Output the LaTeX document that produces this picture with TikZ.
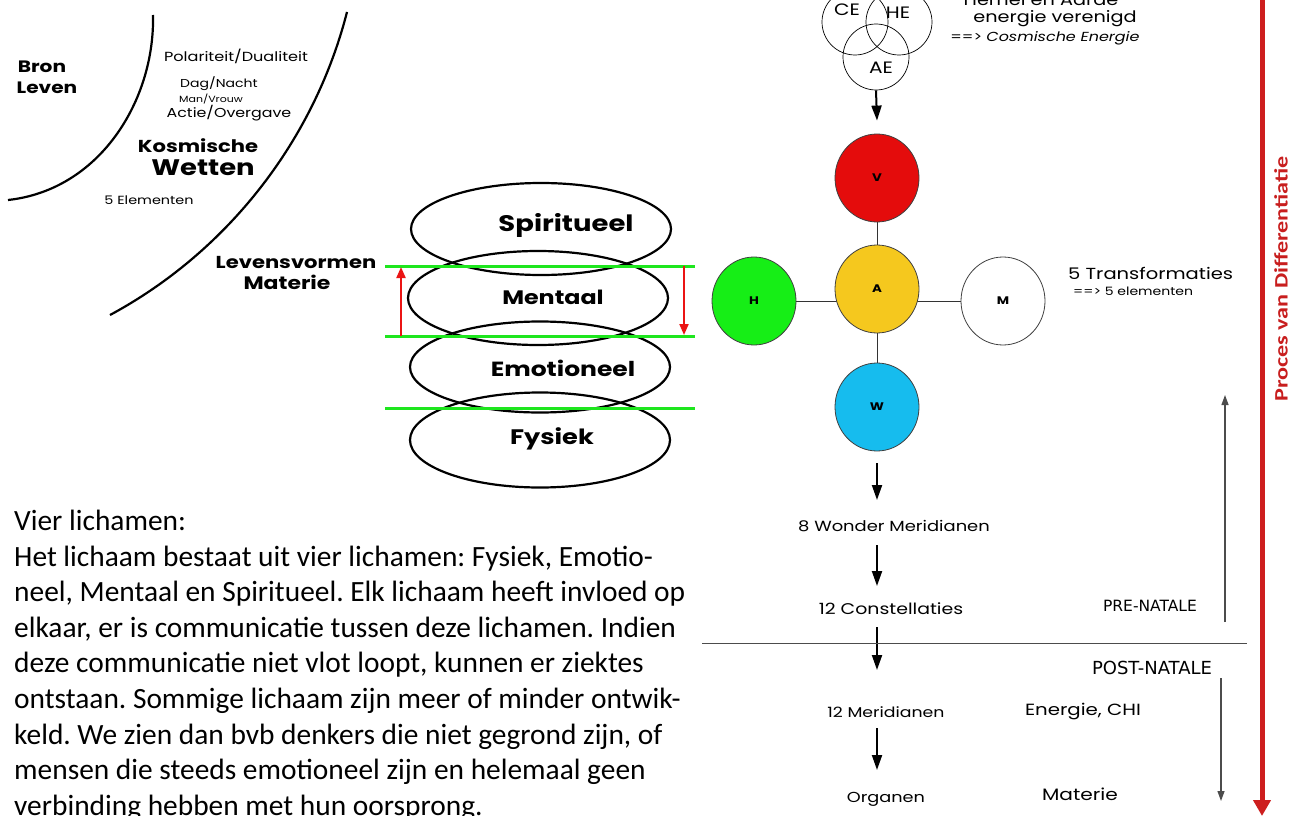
\documentclass[tikz,border=0pt]{standalone}
\usepackage{fontspec}
\setmainfont{Poppins}[FakeStretch=1.22]
\newfontfamily\bodyfont{Carlito}
\newfontfamily\tahfont{DejaVu Sans}
\usetikzlibrary{arrows.meta,shapes.geometric,calc,backgrounds}
\newcommand\fsz[1]{\fontsize{#1}{#1}\selectfont}
\definecolor{cV}{RGB}{228,12,12}
\definecolor{cA}{RGB}{245,200,30}
\definecolor{cH}{RGB}{22,238,22}
\definecolor{cW}{RGB}{22,188,238}
\definecolor{glin}{RGB}{30,230,30}
\definecolor{rarr}{RGB}{235,20,20}
\definecolor{bigred}{RGB}{205,30,30}
\definecolor{procred}{RGB}{200,30,30}
\begin{document}
\frenchspacing
\begin{tikzpicture}[x=1pt,y=1pt,
  txt/.style={inner sep=0pt, anchor=center},
  arcline/.style={line width=2.2pt, draw=black},
  layer/.style={ellipse, draw, line width=2.2pt, minimum width=260pt, inner sep=0pt},
  layertxt/.style={txt, font=\fsz{20.5}\bfseries},
  gline/.style={line width=3pt, draw=glin},
  rarrow/.style={line width=2pt, draw=rarr, -{Triangle[length=11pt,width=9pt]}},
  venn/.style={circle, draw, line width=0.7pt, minimum size=66pt, inner sep=0pt},
  venntxt/.style={txt, font=\fsz{16.5}},
  elem/.style={ellipse, draw=black!75, line width=0.8pt, minimum width=84pt, minimum height=88pt, inner sep=0pt, font=\fsz{11}\bfseries},
  conn/.style={line width=0.9pt, draw=black!80},
  flow/.style={line width=2pt, -{Triangle[length=15pt,width=10pt]}},
  thinarr/.style={line width=1.3pt, draw=black!70, -{Triangle[length=10pt,width=7pt]}},
  flowtxt/.style={txt, font=\fsz{14.7}},
  tahtxt/.style={txt, font=\tahfont\fsz{15.5}},
]
\begin{scope}[on background layer]
\fill[white] (0,0) rectangle (1293,-816);
\end{scope}
\useasboundingbox (0,0) rectangle (1293,-816);

% arcs
\draw[arcline] (8,-200) .. controls (100,-190) and (155,-100) .. (153,-15);
\draw[arcline] (110,-315) .. controls (227,-252) and (314,-141) .. (347,-12);

% left labels
\node[txt, font=\fsz{16.5}\bfseries] (bron) at (42,-67) {Bron};
\node[txt, font=\fsz{16.5}\bfseries] (leven) at (47,-88) {Leven};
\node[txt, font=\fsz{13.2}] (pol) at (236,-56) {Polariteit/Dualiteit};
\node[txt, font=\fsz{11.5}] (dag) at (219,-84) {Dag/Nacht};
\node[txt, font=\fsz{9}] (man) at (211,-99) {Man/Vrouw};
\node[txt, font=\fsz{13}] (actie) at (229,-113) {Actie/Overgave};
\node[txt, font=\fsz{17.3}\bfseries] (kos) at (198,-146) {Kosmische};
\node[txt, font=\fsz{22.5}\bfseries] (wet) at (203,-168) {Wetten};
\node[txt, font=\fsz{11.8}] (elem5) at (149,-200) {5 Elementen};
\node[txt, font=\fsz{17.3}\bfseries] (levv) at (296,-262) {Levensvormen};
\node[txt, font=\fsz{18}\bfseries] (mat1) at (287,-282) {Materie};

% four bodies
\node[layer, minimum height=92pt] (spir) at (541,-229) {};
\node[layer, minimum height=94pt] (ment) at (538,-298) {};
\node[layer, minimum height=91pt] (emo) at (540,-367) {};
\node[layer, minimum height=95pt] (fys) at (540,-440) {};
\node[layertxt, font=\fsz{22.5}\bfseries] (tspir) at (566,-225) {Spiritueel};
\node[layertxt, font=\fsz{19.5}\bfseries] (tment) at (553,-297) {Mentaal};
\node[layertxt] (temo) at (563,-368) {Emotioneel};
\node[layertxt, font=\fsz{21}\bfseries] (tfys) at (552,-439) {Fysiek};

% green lines
\coordinate (g1l) at (385,-266); \coordinate (g1r) at (695,-266);
\coordinate (g2l) at (385,-336); \coordinate (g2r) at (695,-336);
\coordinate (g3l) at (385,-408); \coordinate (g3r) at (695,-408);
\draw[gline] (g1l) -- (g1r);
\draw[gline] (g2l) -- (g2r);
\draw[gline] (g3l) -- (g3r);
% red arrows
\coordinate (ua0) at (401,-336); \coordinate (ua1) at (401,-267);
\coordinate (da0) at (684,-266); \coordinate (da1) at (684,-335);
\draw[rarrow] (ua0) -- (ua1);
\draw[rarrow] (da0) -- (da1);

% venn
\node[venn] (ce) at (855,-22) {};
\node[venn] (he) at (899,-22) {};
\node[venn] (ae) at (876,-57) {};
\node[venntxt] (tce) at (847,-10) {CE};
\node[venntxt] (the) at (898,-13) {HE};
\node[venntxt] (tae) at (881,-68) {AE};
\node[txt, font=\fsz{15.8}, anchor=base] (hemel) at (1041,-6) {Hemel en Aarde};
\node[txt, font=\fsz{15.8}] (energ) at (1055,-19) {energie verenigd};
\node[txt, font=\fsz{13.1}] (cosm) at (1045,-38) {==> \itshape Cosmische Energie};

% five elements
\node[elem, fill=cV] (V) at (877,-178) {V};
\node[elem, fill=cA] (A) at (877,-289) {A};
\node[elem, fill=cH] (H) at (754,-301) {H};
\node[elem, fill=white] (M) at (1003,-301) {M};
\node[elem, fill=cW] (W) at (877,-407) {W};
\begin{scope}[on background layer]
\draw[conn] (V.center) -- (A.center);
\draw[conn] (A.center) -- (W.center);
\draw[conn] (H.center) -- (H.center -| A.center);
\draw[conn] (A.center |- M.center) -- (M.center);
\end{scope}
\node[txt, font=\fsz{16}, anchor=west] (transf) at (1068,-273) {5 Transformaties};
\node[txt, font=\fsz{11.5}, anchor=west] (elemn) at (1073,-291) {==> 5 elementen};

% flow column
\node[flowtxt] (wonder) at (894,-526) {8 Wonder Meridianen};
\node[flowtxt, font=\fsz{15.5}] (constel) at (891,-609) {12 Constellaties};
\node[flowtxt, font=\fsz{14.2}] (merid) at (886,-712) {12 Meridianen};
\node[flowtxt, font=\fsz{14.5}] (organen) at (886,-799) {Organen};
\node[flowtxt, font=\fsz{16.2}] (chi) at (1083,-712) {Energie, CHI};
\node[flowtxt, font=\fsz{16.5}] (mat2) at (1080,-794) {Materie};
\node[tahtxt] (pre) at (1150,-606) {PRE-NATALE};
\node[tahtxt, font=\tahfont\fsz{18}] (post) at (1152,-668) {POST-NATALE};

\draw[flow] (ae.south) -- ([yshift=13pt]V.north);
\draw[flow] ($(W.south)+(0,-12)$) -- ($(W.south |- wonder.center)+(0,26)$);
\draw[flow] ($(W.south |- wonder.center)+(0,-19)$) -- ($(W.south |- constel.center)+(0,23)$);
\draw[flow] ($(W.south |- constel.center)+(0,-18)$) -- ($(W.south |- merid.center)+(0,42)$);
\draw[flow] ($(W.south |- merid.center)+(0,-16)$) -- ($(W.south |- organen.center)+(0,29)$);

% divider and side arrows
\coordinate (div0) at (702,-643); \coordinate (div1) at (1247,-643);
\draw[line width=1pt, draw=black!70] (div0) -- (div1);
\coordinate (up0) at (1225,-622); \coordinate (up1) at (1225,-395);
\draw[thinarr] (up0) -- (up1);
\coordinate (dn0) at (1221,-678); \coordinate (dn1) at (1221,-801);
\draw[thinarr] (dn0) -- (dn1);

% big red arrow
\coordinate (r0) at (1262,2); \coordinate (r1) at (1262,-816);
\draw[line width=5pt, draw=bigred, -{Triangle[length=16pt,width=17pt]}] (r0) -- (r1);
\node[txt, rotate=90, text=procred, font=\bodyfont\bfseries\fsz{19}] (proc) at (1281,-279) {\scalebox{1.27}[1]{Proces van Differentiatie}};

% paragraph
\foreach \t [count=\i] in {{Vier lichamen:},
 {Het lichaam bestaat uit vier lichamen: Fysiek, Emotio-},
 {neel, Mentaal en Spiritueel. Elk lichaam heeft invloed op},
 {elkaar, er is communicatie tussen deze lichamen. Indien},
 {deze communicatie niet vlot loopt, kunnen er ziektes},
 {ontstaan. Sommige lichaam zijn meer of minder ontwik-},
 {keld. We zien dan bvb denkers die niet gegrond zijn, of},
 {mensen die steeds emotioneel zijn en helemaal geen},
 {verbinding hebben met hun oorsprong.}}
 \node[inner sep=0pt, anchor=base west, font=\bodyfont\fsz{29.4}] (p\i) at (14,{-530.5-35.6*(\i-1)}) {\t};
\end{tikzpicture}
\end{document}
